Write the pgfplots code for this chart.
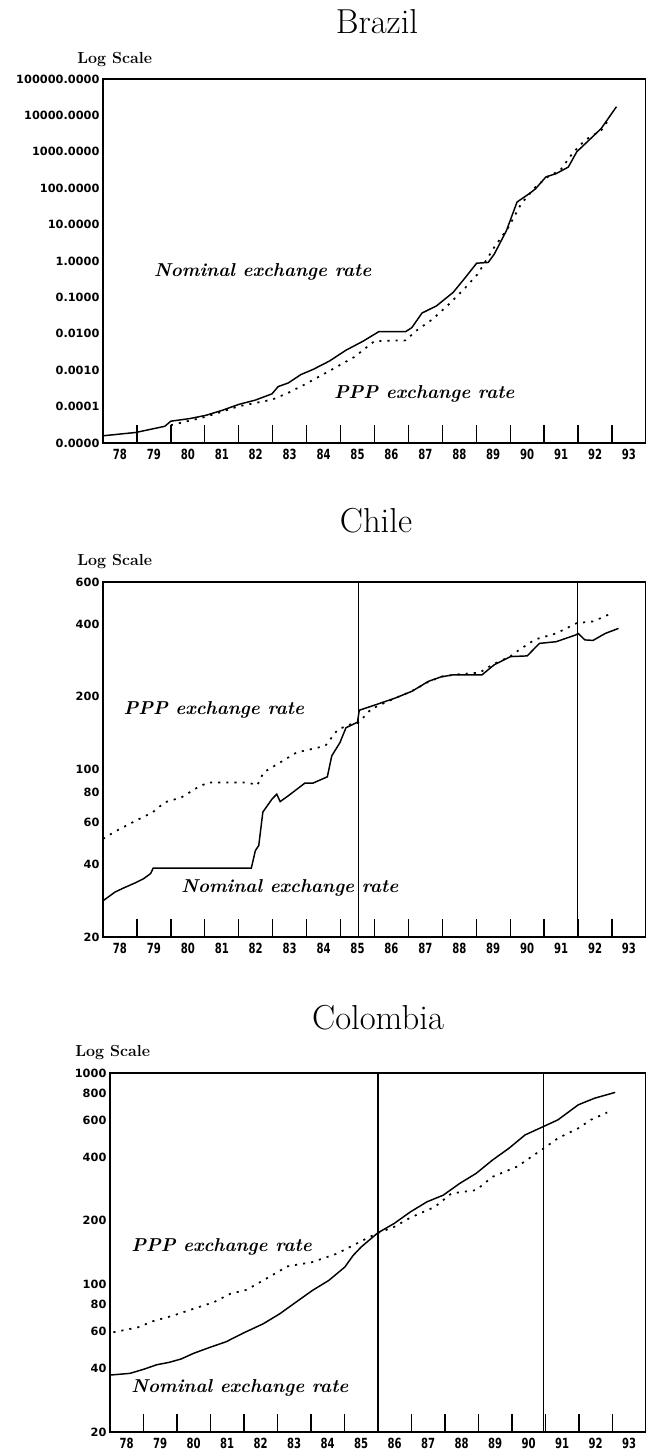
\documentclass[border=0pt]{standalone}
\usepackage{fontspec}
\usepackage{pgfplots}
\pgfplotsset{compat=1.18}
\newfontfamily\ytickfont{DejaVu Sans}
\newfontfamily\xtickfont[FakeStretch=0.72]{DejaVu Sans}

\pgfplotsset{
  country/.style={
    scale only axis,
    anchor=south west,
    xmin=1978, xmax=1994,
    axis line style={line width=1.5pt},
    tick align=inside,
    xtick={1978,...,1994},
    x tick label as interval,
    xticklabels={78,79,80,81,82,83,84,85,86,87,88,89,90,91,92,93},
    xtick pos=lower, ytick pos=left,
    major tick length=13.5pt,
    xtick style={line width=1pt, black},
    ytick style={draw=none},
    xticklabel style={font=\xtickfont\bfseries\fontsize{10.5}{12}\selectfont,
      inner sep=0pt, anchor=north, text height=7.8pt, text depth=0pt, yshift=-4pt},
    yticklabel style={font=\ytickfont\bfseries\fontsize{8.5}{10}\selectfont, inner sep=0pt, xshift=-2.5pt},
    clip=false,
  },
  nominal/.style={black, line width=1.1pt},
  ppp/.style={black, line width=1.3pt, dash pattern=on 1.6pt off 4.5pt},
  vline/.style={black, line width=0.9pt},
}
\tikzset{
  lbl/.style={font=\bfseries\itshape\fontsize{14}{16}\selectfont, anchor=west, inner sep=0pt},
  ttl/.style={font=\fontsize{26}{30}\selectfont},
  logs/.style={font=\bfseries\fontsize{12}{14}\selectfont, anchor=west, inner sep=0pt},
}

\begin{document}
\begin{tikzpicture}
\useasboundingbox (0,0) rectangle (484.5pt,-1087.5pt);

% titles and "Log Scale" headers
\node[ttl] at (282.75pt,-16pt) {Brazil};
\node[ttl] at (282pt,-390.75pt) {Chile};
\node[ttl] at (283.5pt,-763.5pt) {Colombia};
\node[logs] at (57.75pt,-45pt) {Log Scale};
\node[logs] at (57.75pt,-421.5pt) {Log Scale};
\node[logs] at (56.25pt,-789.75pt) {Log Scale};

% ---- Brazil
\begin{semilogyaxis}[country,
    at={(77.25pt,-332.25pt)}, width=407.25pt, height=273pt,
    ymin=1e-5, ymax=1e5,
    ytick={1e-5,1e-4,1e-3,1e-2,1e-1,1,10,100,1000,10000,100000},
    yticklabels={0.0000,0.0001,0.0010,0.0100,0.1000,1.0000,10.0000,100.0000,1000.0000,10000.0000,100000.0000},
  ]
  \addplot[nominal] coordinates {
    (1978.0,1.58e-5) (1978.97,1.95e-5) (1979.82,2.88e-5) (1980.0,3.98e-5)
    (1980.55,4.68e-5) (1981.03,5.75e-5) (1981.52,7.94e-5) (1982.0,1.15e-4)
    (1982.49,1.51e-4) (1982.98,2.24e-4) (1983.16,3.55e-4) (1983.46,4.47e-4)
    (1983.83,7.59e-4) (1984.19,1.05e-3) (1984.67,1.78e-3) (1985.16,3.55e-3)
    (1985.65,6.17e-3) (1986.13,1.15e-2) (1986.92,1.15e-2) (1987.1,1.48e-2)
    (1987.4,3.72e-2) (1987.83,5.89e-2) (1988.32,0.138) (1988.68,0.355)
    (1989.01,0.871) (1989.35,0.912) (1989.53,1.55) (1989.89,6.92)
    (1990.2,41.7) (1990.56,70.8) (1990.74,95.5) (1991.05,204)
    (1991.35,251) (1991.71,380) (1991.96,1000) (1992.32,2089)
    (1992.68,4365) (1993.13,17378)};
  \addplot[ppp] coordinates {
    (1980.0,3.09e-5) (1981.03,5.25e-5) (1982.0,1.02e-4) (1982.98,1.55e-4)
    (1983.46,2.40e-4) (1983.95,4.07e-4) (1984.67,9.55e-4) (1985.4,2.29e-3)
    (1986.0,6.31e-3) (1986.92,6.61e-3) (1987.22,1.20e-2) (1987.71,2.51e-2)
    (1988.19,6.46e-2) (1988.68,0.186) (1989.04,0.437) (1989.53,2.40)
    (1989.95,8.51) (1990.32,37.2) (1990.74,107) (1991.1,204)
    (1991.47,309) (1991.83,891) (1992.2,2089) (1992.68,3890) (1992.93,8318)};
  \node[lbl] at (axis cs:1979.5,0.5) {Nominal exchange rate};
  \node[lbl] at (axis cs:1984.8,2.3e-4) {PPP exchange rate};
\end{semilogyaxis}

% ---- Chile
\begin{semilogyaxis}[country,
    at={(77.25pt,-702.75pt)}, width=407.25pt, height=266.25pt,
    ymin=20, ymax=600,
    ytick={20,40,60,80,100,200,400,600},
    yticklabels={20,40,60,80,100,200,400,600},
  ]
  \addplot[vline] coordinates {(1985.52,20) (1985.52,600)};
  \addplot[vline] coordinates {(1991.97,20) (1991.97,600)};
  \addplot[nominal] coordinates {
    (1978.0,28.3) (1978.36,30.8) (1978.61,32.0) (1978.97,33.7) (1979.2,35.0)
    (1979.4,36.7) (1979.48,38.7) (1982.37,38.7) (1982.49,45.8) (1982.59,48.1)
    (1982.71,66.2) (1982.98,75.0) (1983.12,78.6) (1983.22,73.2) (1983.46,77.4)
    (1983.95,87.4) (1984.19,87.4) (1984.61,92.8) (1984.74,113.4) (1984.98,128.7)
    (1985.16,148.5) (1985.5,156.6) (1985.55,175.6) (1985.89,182.2) (1986.25,189.6)
    (1986.62,197.6) (1987.1,210.5) (1987.59,231.7) (1987.95,241.5) (1988.32,246.7)
    (1989.17,246.7) (1989.53,271.6) (1990.01,293.6) (1990.5,295.6) (1990.86,333.3)
    (1991.35,338.6) (1991.93,361.3) (1992.0,366.6) (1992.2,344.5) (1992.44,342.9)
    (1992.8,366.6) (1993.19,384.7)};
  \addplot[ppp] coordinates {
    (1978.0,51.2) (1978.36,55.0) (1978.97,61.0) (1979.46,66.0) (1979.82,72.7)
    (1980.31,76.2) (1980.79,83.9) (1981.1,87.9) (1982.25,87.9) (1982.55,85.7)
    (1982.73,96.8) (1983.22,106.5) (1983.7,117.1) (1984.55,124.8) (1984.92,146.0)
    (1985.28,153.2) (1985.52,155.4) (1985.89,176.9) (1986.13,184)
    (1986.6,197) (1987.1,211) (1987.6,231) (1988.0,243) (1988.5,248)
    (1989.1,252) (1989.5,273) (1990.0,294) (1990.26,313.0) (1990.74,346.4)
    (1991.35,366.6) (1991.96,404.6) (1992.44,411.3) (1992.99,444.7)};
  \node[lbl] at (axis cs:1978.6,177) {PPP exchange rate};
  \node[lbl] at (axis cs:1980.3,32) {Nominal exchange rate};
\end{semilogyaxis}

% ---- Colombia
\begin{semilogyaxis}[country,
    at={(82.5pt,-1074pt)}, width=402pt, height=269.25pt,
    ymin=20, ymax=1000,
    ytick={20,40,60,80,100,200,400,600,800,1000},
    yticklabels={20,40,60,80,100,200,400,600,800,1000},
  ]
  \addplot[vline] coordinates {(1986.0,20) (1986.0,1000)};
  \addplot[vline] coordinates {(1990.95,20) (1990.95,1000)};
  \addplot[nominal] coordinates {
    (1978.0,37.2) (1978.6,37.9) (1979.02,39.7) (1979.39,41.6) (1979.76,42.7)
    (1980.12,44.3) (1980.49,47.1) (1980.98,50.3) (1981.47,53.5) (1981.96,58.6)
    (1982.57,65.0) (1983.06,72.4) (1983.55,82.3) (1984.04,93.5) (1984.53,104.3)
    (1985.01,120.7) (1985.26,137.1) (1985.5,150.3) (1985.99,175.0) (1986.48,194.0)
    (1986.97,220.3) (1987.46,245.6) (1987.95,264.3) (1988.44,300.3) (1988.93,335.0)
    (1989.42,387.6) (1989.91,440.5) (1990.39,509.3) (1990.94,558.2) (1991.37,600.2)
    (1991.98,707.5) (1992.47,760.5) (1993.08,809.6)};
  \addplot[ppp] coordinates {
    (1978.1,59.3) (1978.84,62.6) (1979.27,66.8) (1979.88,71.1) (1980.49,76.6)
    (1981.1,82.3) (1981.59,90.2) (1982.08,94.2) (1982.57,104.3) (1983.3,121.6)
    (1984.04,127.4) (1984.77,139.6) (1985.26,153.0) (1985.75,167.5) (1986.0,175.0)
    (1986.48,187.0) (1986.97,207.0) (1987.7,232.6) (1988.19,269.2) (1988.93,279.2)
    (1989.42,322.8) (1990.15,360.5) (1990.88,432.5) (1991.37,491.0) (1991.98,548.0)
    (1992.35,600.2) (1992.84,650.5)};
  \node[lbl] at (axis cs:1978.63,150) {PPP exchange rate};
  \node[lbl] at (axis cs:1978.63,32.5) {Nominal exchange rate};
\end{semilogyaxis}
\end{tikzpicture}
\end{document}
